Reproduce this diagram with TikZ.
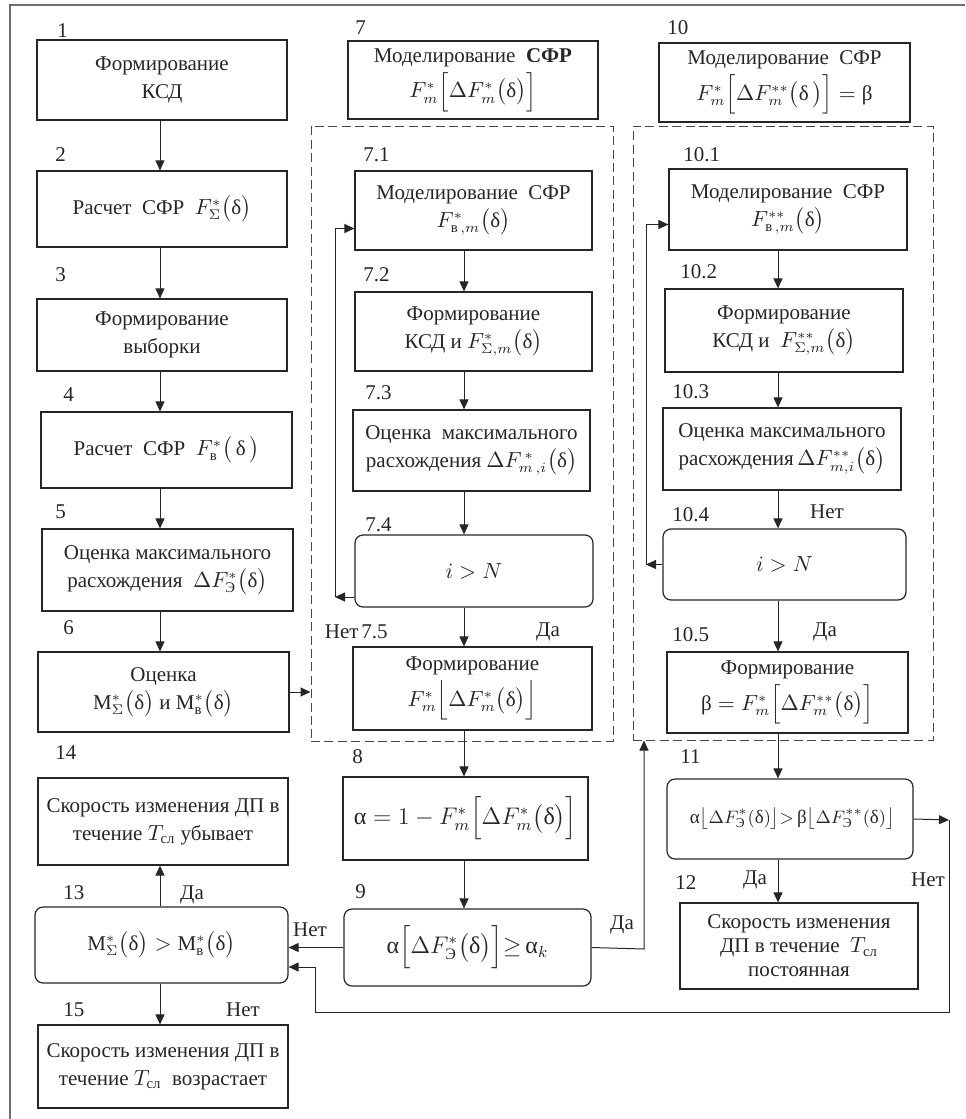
\documentclass[tikz,border=0pt]{standalone}
\usepackage{amsmath}
\usepackage{fontspec}
\setmainfont{Liberation Serif}
\usetikzlibrary{positioning,arrows.meta,calc}
\definecolor{lnblack}{HTML}{262626}
\definecolor{framegray}{HTML}{6E6E6E}
\newcommand{\dlt}{\text{δ}}
\newcommand{\alp}{\text{α}}
\newcommand{\bt}{\text{β}}
\tikzset{
  blk/.style={draw=lnblack, line width=0.6pt, align=center, inner sep=0pt, text=lnblack},
  rblk/.style={blk, rounded corners=4pt},
  sz/.style 2 args={minimum width=#1, minimum height=#2},
  grp/.style={draw=lnblack!85, line width=0.5pt, dash pattern=on 4.5pt off 2.2pt, inner sep=0pt},
  arr/.style={draw=lnblack, line width=0.5pt, -{Triangle[length=5pt,width=4.5pt]}},
  lnk/.style={draw=lnblack, line width=0.5pt},
  num/.style={anchor=west, inner sep=0pt, text=lnblack},
  ans/.style={inner sep=0pt, text=lnblack},
}

\begin{document}
\begin{tikzpicture}[x=0.5pt, y=-0.5pt, font=\fontsize{10.5}{14}\selectfont]
    \useasboundingbox (0,0) rectangle (965,1119);
    \draw[framegray, line width=1.1pt] (10,1119) -- (10,5) -- (965,5);

    % column lines for the arrows
    \coordinate (c1) at (160,0);
    \coordinate (c2) at (464,0);
    \coordinate (c3) at (778,0);

    % left column
    \node[blk, sz={125pt}{40pt}] (b1) at (162,80) {Формирование\\КСД};
    \node[blk, sz={125pt}{38pt}] (b2) at (162,209) {Расчет\ \ СФР\ \ $F^*_\Sigma\big(\dlt\big)$};
    \node[blk, sz={125pt}{36pt}] (b3) at (162,335) {Формирование\\выборки};
    \node[blk, sz={125.5pt}{38pt}] (b4) at (166.5,450) {Расчет\ \ СФР\ \ $F^*_{\text{в}}\big(\,\dlt\,\big)$};
    \node[blk, sz={125.5pt}{41pt}] (b5) at (167.5,570) {Оценка максимального\\расхождения\ \ $\Delta F^*_{\text{Э}}\big(\dlt\big)$};
    \node[blk, sz={125.5pt}{40pt}] (b6) at (163.5,692) {Оценка\\$\mathrm{M}^*_\Sigma\big(\dlt\big)$ и $\mathrm{M}^*_{\text{в}}\big(\dlt\big)$};
    \node[blk, sz={125pt}{43.5pt}] (b14) at (163,821.5) {Скорость изменения ДП в\\течение $T_{\text{сл}}$ убывает};
    \node[rblk, sz={126.5pt}{38pt}] (b13) at (161.5,945) {$\mathrm{M}^*_\Sigma\big(\dlt\big) > \mathrm{M}^*_{\text{в}}\big(\dlt\big)$};
    \node[blk, sz={125pt}{41.5pt}] (b15) at (163,1066.5) {Скорость изменения ДП в\\течение $T_{\text{сл}}$\ \ возрастает};

    % middle column
    \node[blk, sz={125pt}{39pt}] (b7) at (473,80) {Моделирование\ \ \textbf{СФР}\\[2pt]$F^*_m\Big[\Delta F^*_m\big(\dlt\big)\Big]$};
    \node[grp, sz={151pt}{307.5pt}] (g7) at (462,433.5) {};
    \node[blk, sz={118.5pt}{39.5pt}] (b71) at (473.5,210.5) {Моделирование\ \ СФР\\$F^*_{\text{в}\,,m}\big(\dlt\big)$};
    \node[blk, sz={118.5pt}{39.5pt}] (b72) at (473.5,331.5) {Формирование\\КСД и $F^*_{\Sigma,m}\big(\dlt\big)$};
    \node[blk, sz={118.5pt}{40.5pt}] (b73) at (471.5,450.5) {Оценка\ \ максимального\\расхождения $\Delta F^{\,*}_{m\,,i}\big(\dlt\big)$};
    \node[rblk, sz={119pt}{36pt}] (b74) at (474,571) {$i > N$};
    \node[blk, sz={119.5pt}{41.5pt}] (b75) at (472.5,688.5) {Формирование\\[2pt]$F^*_m\Big\lfloor\Delta F^*_m\big(\dlt\big)\Big\rfloor$};
    \node[blk, sz={122.5pt}{41.5pt}, font=\fontsize{12}{14}\selectfont] (b8) at (465.5,818.5) {$\alp = 1 - F^*_m\Big[\Delta F^*_m\big(\dlt\big)\Big]$};
    \node[rblk, sz={123.5pt}{38.5pt}, font=\fontsize{12}{14}\selectfont] (b9) at (467.5,947.5) {$\alp\Big[\Delta F^*_{\text{Э}}\big(\dlt\big)\Big]{\ge}\,\alp_k$};

    % right column
    \node[blk, sz={125.5pt}{39.5pt}] (b10) at (784.5,82.5) {Моделирование\ \ СФР\\[2pt]$F^*_m\Big[\Delta F^{**}_m\big(\dlt\,\big)\Big] = \bt$};
    \node[grp, sz={150pt}{307pt}] (g10) at (783,433) {};
    \node[blk, sz={119pt}{40.5pt}] (b101) at (788,209.5) {Моделирование\ \ СФР\\$F^{**}_{\text{в}\,,m}\big(\dlt\big)$};
    \node[blk, sz={119pt}{41.5pt}] (b102) at (784,330.5) {Формирование\\КСД и\ \ $F^{**}_{\Sigma,m}\big(\dlt\big)$};
    \node[blk, sz={119pt}{41pt}] (b103) at (782,449) {Оценка максимального\\расхождения$\,\Delta F^{**}_{m,i}\big(\dlt\big)$};
    \node[rblk, sz={121.5pt}{35.5pt}] (b104) at (784.5,564.5) {$i > N$};
    \node[blk, sz={120.5pt}{40.5pt}] (b105) at (787.5,692.5) {Формирование\\[2pt]$\bt = F^*_m\Big[\Delta F^{**}_m\big(\dlt\big)\Big]$};
    \node[rblk, sz={123pt}{40pt}, font=\fontsize{9.5}{12}\selectfont] (b11) at (790,819) {\ $\alp\big\lfloor\Delta F^*_{\text{Э}}(\dlt)\big\rfloor{>}\,\bt\big\lfloor\Delta F^{**}_{\text{Э}}(\dlt)\big\rfloor$};
    \node[blk, sz={119pt}{43pt}, font=\fontsize{10.5}{12}\selectfont] (b12) at (799,946) {Скорость изменения\\ДП в течение\ \ $T_{\text{сл}}$\\постоянная};

    % step numbers
    \node[num] (n1) at (57,31) {1};
    \node[num] (n2) at (55,155) {2};
    \node[num] (n3) at (55,275) {3};
    \node[num] (n4) at (63,395) {4};
    \node[num] (n5) at (55,512) {5};
    \node[num] (n6) at (63,628) {6};
    \node[num] (n14) at (55,753) {14};
    \node[num] (n13) at (63,893) {13};
    \node[num] (n15) at (63,1010) {15};
    \node[num] (n7) at (355,28) {7};
    \node[num] (n71) at (363,155) {7.1};
    \node[num] (n72) at (363,275) {7.2};
    \node[num] (n73) at (365,393) {7.3};
    \node[num] (n74) at (365,525) {7.4};
    \node[num] (n75) at (361,632) {7.5};
    \node[num] (n8) at (352,757) {8};
    \node[num] (n9) at (355,892) {9};
    \node[num] (n10) at (667,28) {10};
    \node[num] (n101) at (683,155) {10.1};
    \node[num] (n102) at (680,272) {10.2};
    \node[num] (n103) at (672,392) {10.3};
    \node[num] (n104) at (672,515) {10.4};
    \node[num] (n105) at (672,635) {10.5};
    \node[num] (n11) at (680,757) {11};
    \node[num] (n12) at (675,883) {12};

    % yes / no
    \node[ans, anchor=east] (a75) at (359,632) {Нет};
    \node[ans] (y75) at (548,632) {Да};
    \node[ans] (a104) at (827,512) {Нет};
    \node[ans] (y105) at (825,632) {Да};
    \node[ans] (y13) at (192,895) {Да};
    \node[ans] (a15) at (243,1010) {Нет};
    \node[ans] (a9) at (310,930) {Нет};
    \node[ans] (y9) at (622,925) {Да};
    \node[ans] (y12) at (755,880) {Да};
    \node[ans] (a12) at (928,880) {Нет};

    % straight flow
    \foreach \a/\b in {b1/b2,b2/b3,b3/b4,b4/b5,b5/b6}
      \draw[arr] (c1 |- \a.south) -- (c1 |- \b.north);
    \foreach \a/\b in {b71/b72,b72/b73,b73/b74,b74/b75,b75/b8,b8/b9}
      \draw[arr] (c2 |- \a.south) -- (c2 |- \b.north);
    \foreach \a/\b in {b101/b102,b102/b103,b103/b104,b104/b105,b105/b11,b11/b12}
      \draw[arr] (c3 |- \a.south) -- (c3 |- \b.north);
    \draw[arr] (c1 |- b13.north) -- (c1 |- b14.south);
    \draw[arr] (c1 |- b13.south) -- (c1 |- b15.north);
    \draw[arr] (b6.east) -- (b6.east -| g7.west);

    % loops back
    \coordinate (lp7) at (335,597);
    \draw[arr] ($(b74.west)+(0,26)$) -- (lp7);
    \draw[arr] (lp7) |- ($(b71.west)+(0,18)$);
    \coordinate (lp10) at (646,564.5);
    \draw[arr] (b104.west) -- (lp10);
    \draw[arr] (lp10) |- ($(b101.west)+(0,15)$);

    % decision links
    \coordinate (jn) at (644,949);
    \draw[arr] (b9.east) -- (jn) -- (jn |- g10.south);
    \draw[arr] (b9.west) -- (b9.west -| b13.east);
    \coordinate (rt) at (949,820);
    \coordinate (bt) at (315,1012);
    \draw[arr] (b11.east) -- (rt);
    \draw[arr] (rt) |- (bt) |- ($(b13.east)+(0,22)$);
\end{tikzpicture}
\end{document}
